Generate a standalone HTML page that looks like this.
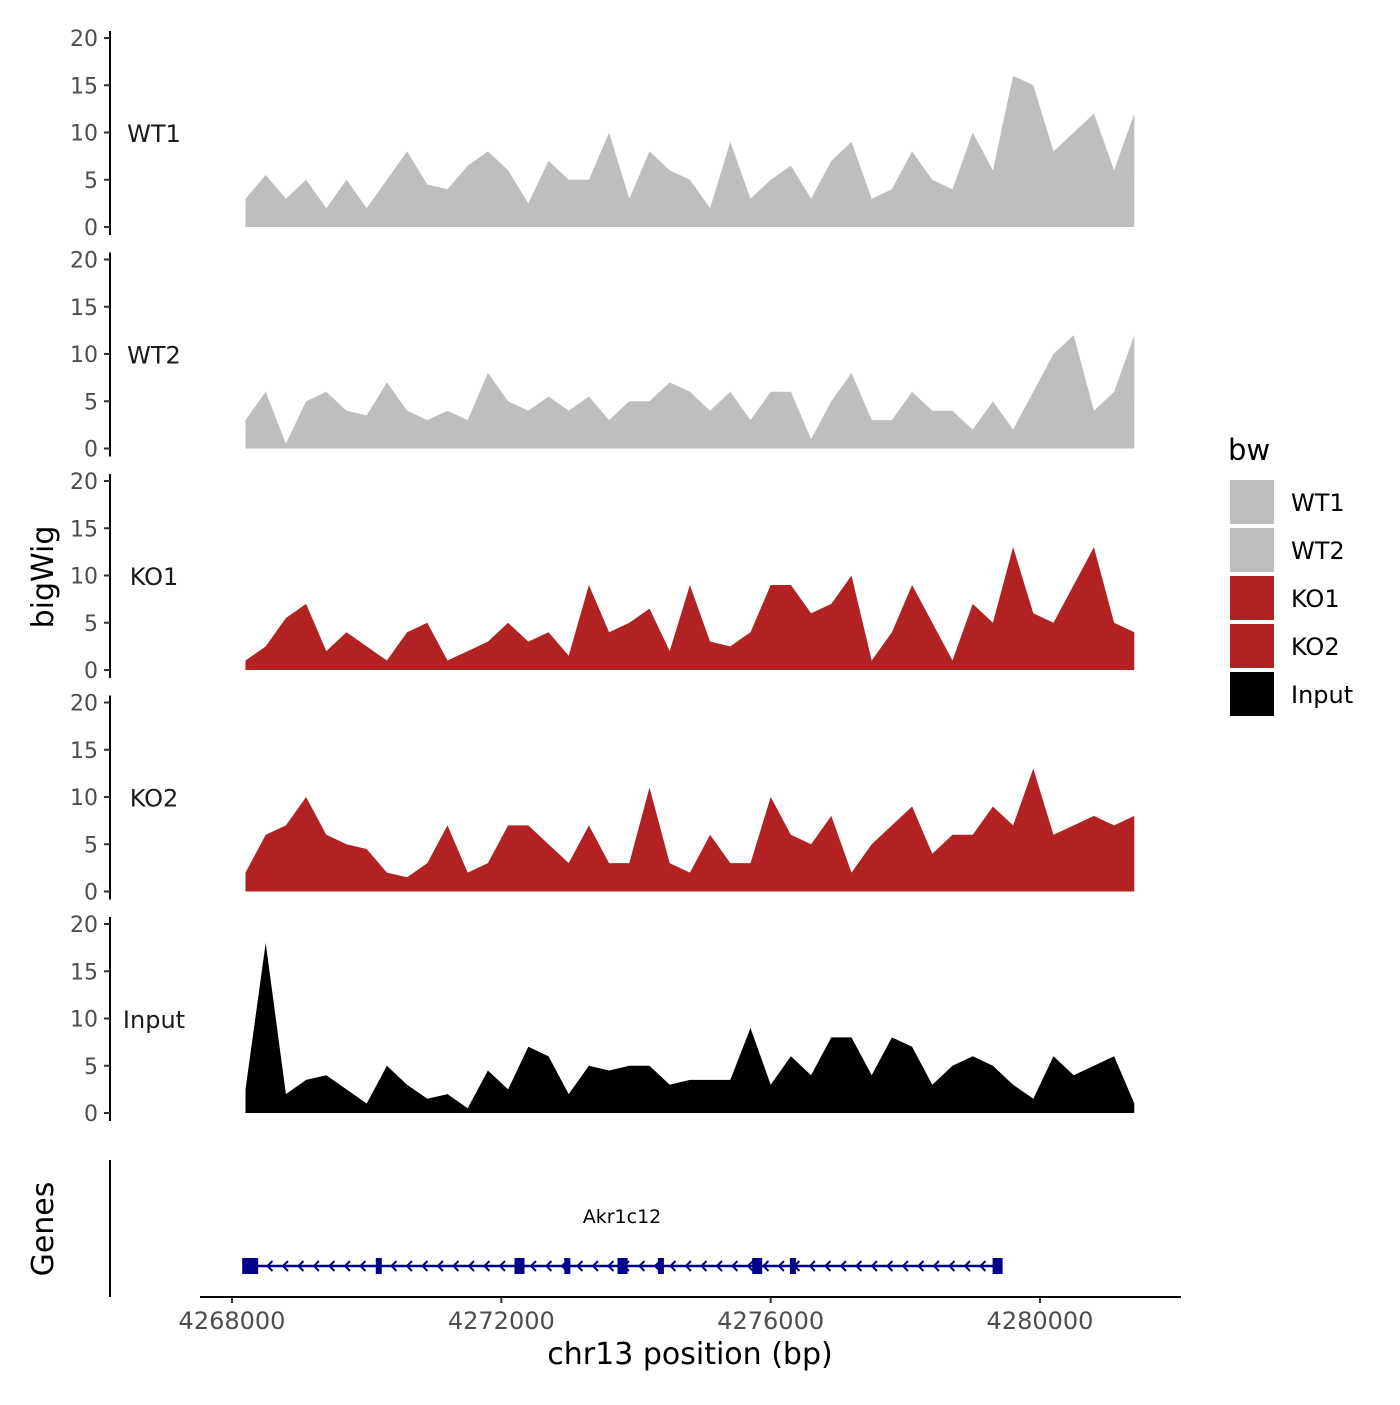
<!DOCTYPE html>
<html><head><meta charset="utf-8"><style>
body{margin:0;background:#fff}
svg text{font-family:"DejaVu Sans","Liberation Sans",sans-serif}
</style></head><body>
<svg id="c" width="1400" height="1400" xmlns="http://www.w3.org/2000/svg"></svg>
<script>
const trackNames=["WT1","WT2","KO1","KO2","Input"];
const trackColors=["#bebebe","#bebebe","#b22222","#b22222","#000000"];
const positions=[];for(let i=0;i<45;i++)positions.push(4268200+300*i);
const wt1=[3,5.5,3,5,2,5,2,5,8,4.5,4,6.5,8,6,2.5,7,5,5,10,3,8,6,5,2,9,3,5,6.5,3,7,9,3,4,8,5,4,10,6,16,15,8,10,12,6,12];
const wt2=[3,6,0.5,5,6,4,3.5,7,4,3,4,3,8,5,4,5.5,4,5.5,3,5,5,7,6,4,6,3,6,6,1,5,8,3,3,6,4,4,2,5,2,6,10,12,4,6,12];
const ko1=[1,2.5,5.5,7,2,4,2.5,1,4,5,1,2,3,5,3,4,1.5,9,4,5,6.5,2,9,3,2.5,4,9,9,6,7,10,1,4,9,5,1,7,5,13,6,5,9,13,5,4];
const ko2=[2,6,7,10,6,5,4.5,2,1.5,3,7,2,3,7,7,5,3,7,3,3,11,3,2,6,3,3,10,6,5,8,2,5,7,9,4,6,6,9,7,13,6,7,8,7,8];
const input=[2.5,18,2,3.5,4,2.5,1,5,3,1.5,2,0.5,4.5,2.5,7,6,2,5,4.5,5,5,3,3.5,3.5,3.5,9,3,6,4,8,8,4,8,7,3,5,6,5,3,1.5,6,4,5,6,1];
const series=[wt1,wt2,ko1,ko2,input];
const yTicks=[0,5,10,15,20];
const xTicks=[4268000,4272000,4276000,4280000];
const exonPositions=[4268270,4270180,4272270,4272980,4273800,4274370,4275800,4276330,4279370];
const geneStart=4268200, geneEnd=4279370;

const NS="http://www.w3.org/2000/svg";
const svg=document.getElementById('c');
function el(t,a,p){const e=document.createElementNS(NS,t);for(const k in a)e.setAttribute(k,a[k]);(p||svg).appendChild(e);return e;}
const xs=bp=>232+(bp-4268000)*808/12000;
const zero0=227, step=221.5, unit=9.45;

series.forEach((d,k)=>{
  const z=zero0+k*step; const ys=v=>z-v*unit;
  const g=el('g',{});
  
  
  let p='M'+xs(positions[0])+','+z;
  d.forEach((v,i)=>{p+=' L'+xs(positions[i]).toFixed(1)+','+ys(v).toFixed(1);});
  p+=' L'+xs(positions[d.length-1])+','+z+' Z';
  const a=el('path',{d:p,fill:trackColors[k]},g);
  
  
  const ax=el('line',{x1:110,x2:110,y1:ys(20)-7,y2:z+8,stroke:'#000','stroke-width':2},g);
  
  
  yTicks.forEach(t=>{
    el('line',{x1:104,x2:110,y1:ys(t),y2:ys(t),stroke:'#333','stroke-width':2},g);
    const tx=el('text',{x:98,y:ys(t)+8,'text-anchor':'end','font-size':22,fill:'#4d4d4d'},g);tx.textContent=t;
    
    
  });
  const lb=el('text',{x:154,y:z-85,'text-anchor':'middle','font-size':24,fill:'#1a1a1a'},g);lb.textContent=trackNames[k];
  
  
});
const yt=el('text',{x:0,y:0,transform:'translate(53,577) rotate(-90)','text-anchor':'middle','font-size':30});yt.textContent='bigWig';


const gt=el('text',{x:0,y:0,transform:'translate(53,1229) rotate(-90)','text-anchor':'middle','font-size':30});gt.textContent='Genes';


el('line',{x1:110,x2:110,y1:1160,y2:1297,stroke:'#000','stroke-width':2});
const gl=el('line',{x1:xs(geneStart),x2:xs(geneEnd),y1:1266,y2:1266,stroke:'#00008b','stroke-width':2.5});


for(let x=xs(geneStart)+22;x<xs(geneEnd)-8;x+=15.5){el('path',{d:`M${x+5},${1261} L${x},${1266} L${x+5},${1271}`,stroke:'#00008b','stroke-width':2,fill:'none'});}
exonPositions.forEach((b,i)=>{const w=i==0?16:(i%2?6:10);const r=el('rect',{x:xs(b)-w/2,y:1258,width:w,height:16,fill:'#00008b'});

});
const gn=el('text',{x:622,y:1223,'text-anchor':'middle','font-size':19});gn.textContent='Akr1c12';


const xa=el('line',{x1:200,x2:1181,y1:1297,y2:1297,stroke:'#000','stroke-width':2});


xTicks.forEach(t=>{el('line',{x1:xs(t),x2:xs(t),y1:1297,y2:1303,stroke:'#333','stroke-width':2});
const tx=el('text',{x:xs(t),y:1329,'text-anchor':'middle','font-size':24,fill:'#4d4d4d'});tx.textContent=t;

});
const xt=el('text',{x:690,y:1364,'text-anchor':'middle','font-size':30});xt.textContent='chr13 position (bp)';


const lt=el('text',{x:1228,y:460,'font-size':29});lt.textContent='bw';


trackNames.forEach((n,i)=>{const y=480+i*48;
const r=el('rect',{x:1230,y:y,width:44,height:44,fill:trackColors[i]});


const t=el('text',{x:1291,y:y+31,'font-size':24});t.textContent=n;

});
</script>
</body></html>
